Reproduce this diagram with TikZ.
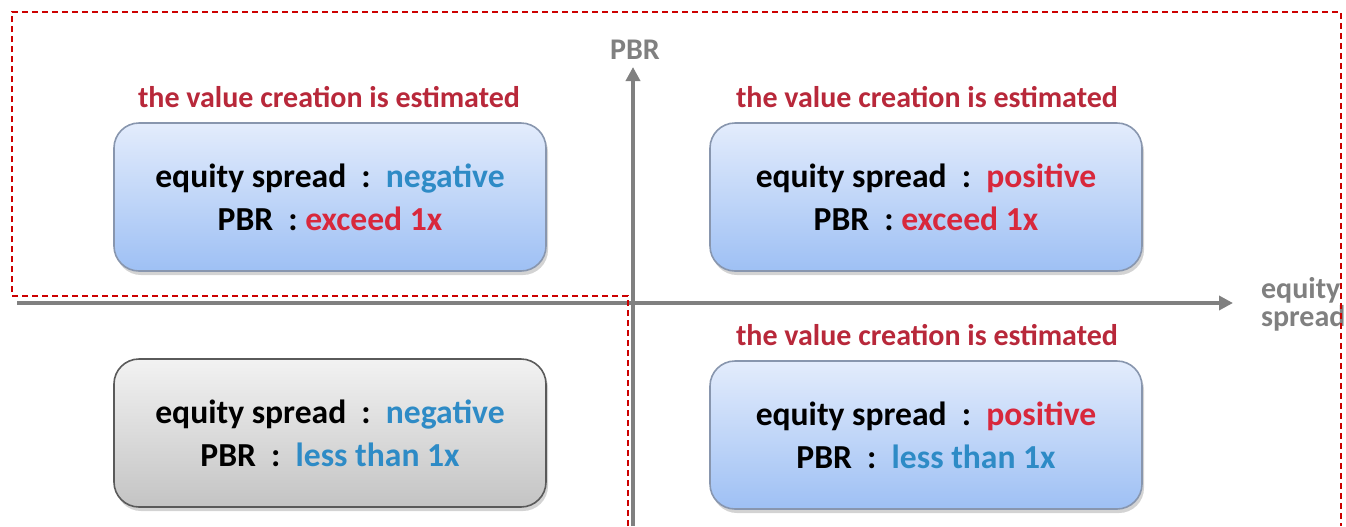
\documentclass[tikz,border=0pt]{standalone}
\usepackage{fontspec}
\setmainfont{Carlito}
\usetikzlibrary{arrows.meta,shadows}
\definecolor{axisgray}{HTML}{808080}
\definecolor{capred}{HTML}{B8283A}
\definecolor{valred}{HTML}{D8283C}
\definecolor{valblue}{HTML}{2E8BC6}
\definecolor{boxtop}{HTML}{E3ECFC}
\definecolor{boxbot}{HTML}{9EC0F4}
\definecolor{boxline}{HTML}{8896AE}
\definecolor{graytop}{HTML}{F2F2F2}
\definecolor{graybot}{HTML}{C4C4C4}
\definecolor{grayline}{HTML}{5A5A5A}
\definecolor{dashred}{HTML}{CC0000}
\tikzset{
  quadbox/.style={rounded corners=12.5pt, minimum width=216pt, minimum height=74pt,
    draw=boxline, line width=0.8pt, top color=boxtop, bottom color=boxbot,
    drop shadow={shadow xshift=1pt, shadow yshift=-2pt, opacity=0.35},
    align=center, font=\bfseries\fontsize{16.8}{21.5}\selectfont, text=black},
  graybox/.style={quadbox, draw=grayline, top color=graytop, bottom color=graybot},
  caption/.style={font=\bfseries\fontsize{15}{16}\selectfont, text=capred},
  axis/.style={draw=axisgray, line width=2pt, -{Triangle[length=7pt,width=7pt]}},
  axlabel/.style={font=\bfseries\fontsize{15}{15}\selectfont, text=axisgray, align=left},
  redframe/.style={draw=dashred, line width=0.9pt, dash pattern=on 3pt off 2pt}
}
\begin{document}
\begin{tikzpicture}[x=0.5pt,y=-0.5pt]
\useasboundingbox (0,0) rectangle (1346,526);
% axes
\coordinate (xs) at (17,303);
\coordinate (xe) at (1233,303);
\coordinate (ys) at (633,526);
\coordinate (ye) at (633,67);
\draw[axis] (xs) -- (xe);
\draw[axis] (ys) -- (ye);
\node[axlabel] (pbr) at (635,50) {PBR};
\node[axlabel, anchor=west] (eqs) at (1254,304) {equity\\[-1pt]spread};
% boxes
\node[quadbox] (tl) at (330,197) {equity spread~~:~~\textcolor{valblue}{negative}\\PBR~~:~\textcolor{valred}{exceed 1x}};
\node[quadbox] (tr) at (926,197) {equity spread~~:~~\textcolor{valred}{positive}\\PBR~~:~\textcolor{valred}{exceed 1x}};
\node[graybox] (bl) at (330,433) {equity spread~~:~~\textcolor{valblue}{negative}\\PBR~~:~~\textcolor{valblue}{less than 1x}};
\node[quadbox] (br) at (926,435) {equity spread~~:~~\textcolor{valred}{positive}\\PBR~~:~~\textcolor{valblue}{less than 1x}};
% captions
\node[caption] (ctl) at (329,97) {the value creation is estimated};
\node[caption] (ctr) at (927,97) {the value creation is estimated};
\node[caption] (cbr) at (927,335) {the value creation is estimated};
% red dashed frame
\draw[redframe] (628,526) -- (628,296) -- (12,296) -- (12,12) -- (1341,12) -- (1341,526);
\end{tikzpicture}
\end{document}
